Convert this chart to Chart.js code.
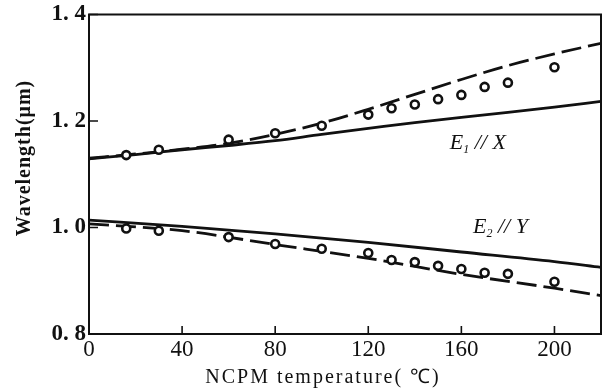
<!DOCTYPE html>
<html>
<head>
<meta charset="utf-8">
<script src="https://cdn.jsdelivr.net/npm/chart.js@4/dist/chart.umd.min.js"></script>
<style>
  html, body { margin: 0; padding: 0; background: #fff; }
  #wrap { width: 609px; height: 389px; }
</style>
</head>
<body>
<div id="wrap"><canvas id="grafico"></canvas></div>
<script>
// measured points (circles)
const tempPuntos = [16, 30, 60, 80, 100, 120, 130, 140, 150, 160, 170, 180, 200];
const medidoX = [1.136, 1.146, 1.165, 1.177, 1.191, 1.212, 1.224, 1.231, 1.241, 1.249, 1.264, 1.272, 1.301];
const medidoY = [0.998, 0.994, 0.982, 0.969, 0.960, 0.952, 0.939, 0.935, 0.928, 0.922, 0.915, 0.913, 0.898];

// curves
const tempCurvaX = [0, 20, 40, 60, 80, 100, 120, 140, 160, 180, 200, 220];
const solidaX = [1.129, 1.137, 1.146, 1.154, 1.163, 1.175, 1.186, 1.197, 1.207, 1.216, 1.226, 1.237];
const trazosX = [1.130, 1.138, 1.147, 1.158, 1.175, 1.196, 1.222, 1.250, 1.278, 1.304, 1.326, 1.346];

const tempCurvaY = [0, 40, 80, 120, 160, 200, 220];
const solidaY = [1.014, 1.002, 0.988, 0.972, 0.954, 0.936, 0.925];
const trazosY = [1.007, 0.994, 0.968, 0.942, 0.912, 0.886, 0.872];

// axes
const xTicks = [0, 40, 80, 120, 160, 200];
const xTickLabels = ['0', '40', '80', '120', '160', '200'];
const yTicks = [0.8, 1.0, 1.2, 1.4];
const yTickLabels = ['0. 8', '1. 0', '1. 2', '1. 4'];

const tituloX = 'NCPM temperature( ℃)';
const tituloY = 'Wavelength(μm)';
const etiquetas = [
    { sub: '1', eje: 'X', x: 155, y: 1.148 },
    { sub: '2', eje: 'Y', x: 165, y: 0.990 }
];

const tinta = '#111';

function pares(xs, ys) {
    return xs.map((v, i) => ({ x: v, y: ys[i] }));
}

function linea(datos, dash) {
    return {
        type: 'line',
        data: datos,
        borderColor: tinta,
        borderWidth: 2.8,
        borderDash: dash,
        pointRadius: 0,
        fill: false,
        cubicInterpolationMode: 'monotone',
        order: 1
    };
}

function puntos(datos) {
    return {
        type: 'scatter',
        data: datos,
        borderColor: tinta,
        backgroundColor: '#fff',
        pointRadius: 4,
        pointBorderWidth: 2.6,
        showLine: false,
        order: 0
    };
}

const marco = {
    id: 'marco',
    afterDraw(chart) {
        const { ctx, chartArea: a, scales: { x, y } } = chart;
        ctx.save();
        ctx.strokeStyle = tinta;
        ctx.lineWidth = 2;
        ctx.strokeRect(a.left, a.top, a.right - a.left, a.bottom - a.top);

        // inward tick marks
        ctx.lineWidth = 1.6;
        ctx.beginPath();
        xTicks.forEach(v => {
            if (v === 0) return;
            const px = x.getPixelForValue(v);
            ctx.moveTo(px, a.bottom);
            ctx.lineTo(px, a.bottom - 8);
        });
        yTicks.forEach(v => {
            const py = y.getPixelForValue(v);
            ctx.moveTo(a.left, py);
            ctx.lineTo(a.left + 9, py);
        });
        ctx.stroke();

        ctx.fillStyle = tinta;
        // x title
        ctx.font = '20px "Liberation Serif"';
        ctx.textAlign = 'center';
        ctx.textBaseline = 'middle';
        ctx.letterSpacing = '2px';
        ctx.fillText(tituloX, 323, 378);

        // y title
        ctx.save();
        ctx.translate(25, 158);
        ctx.rotate(-Math.PI / 2);
        ctx.font = 'bold 20px "Liberation Serif"';
        ctx.letterSpacing = '1px';
        ctx.fillText(tituloY, 0, 0);
        ctx.restore();
        ctx.letterSpacing = '0px';

        // curve labels
        ctx.textAlign = 'left';
        ctx.textBaseline = 'alphabetic';
        etiquetas.forEach(e => {
            let px = x.getPixelForValue(e.x);
            const py = y.getPixelForValue(e.y);
            ctx.font = 'italic 22px "Liberation Serif"';
            ctx.fillText('E', px, py);
            px += ctx.measureText('E').width;
            ctx.font = 'italic 12px "Liberation Serif"';
            ctx.fillText(e.sub, px, py + 4);
            px += ctx.measureText(e.sub).width;
            ctx.font = 'italic 22px "Liberation Serif"';
            ctx.fillText(' // ' + e.eje, px, py);
        });
        ctx.restore();
    }
};

new Chart(document.getElementById('grafico'), {
    data: {
        datasets: [
            puntos(pares(tempPuntos, medidoX)),
            puntos(pares(tempPuntos, medidoY)),
            linea(pares(tempCurvaX, solidaX), []),
            linea(pares(tempCurvaX, trazosX), [20, 7]),
            linea(pares(tempCurvaY, solidaY), []),
            linea(pares(tempCurvaY, trazosY), [20, 7])
        ]
    },
    options: {
        responsive: true,
        maintainAspectRatio: false,
        animation: false,
        layout: { padding: { top: 13, right: 8, left: 0, bottom: 0 } },
        plugins: { legend: { display: false }, tooltip: { enabled: false } },
        scales: {
            x: {
                type: 'linear',
                min: 0,
                max: 220,
                grid: { display: false, drawTicks: false },
                border: { display: false },
                afterBuildTicks: s => { s.ticks = xTicks.map(v => ({ value: v })); },
                afterFit: s => { s.height = 55; },
                ticks: {
                    autoSkip: false,
                    maxRotation: 0,
                    padding: 4,
                    color: tinta,
                    font: { family: 'Liberation Serif', size: 23, lineHeight: 1 },
                    callback: (v, i) => xTickLabels[i]
                }
            },
            y: {
                type: 'linear',
                min: 0.8,
                max: 1.4,
                grid: { display: false, drawTicks: false },
                border: { display: false },
                afterBuildTicks: s => { s.ticks = yTicks.map(v => ({ value: v })); },
                afterFit: s => { s.width = 89; },
                ticks: {
                    autoSkip: false,
                    padding: 3,
                    color: tinta,
                    font: { family: 'Liberation Serif', size: 23, weight: 'bold', lineHeight: 1 },
                    callback: (v, i) => yTickLabels[i]
                }
            }
        }
    },
    plugins: [marco]
});
</script>
</body>
</html>
